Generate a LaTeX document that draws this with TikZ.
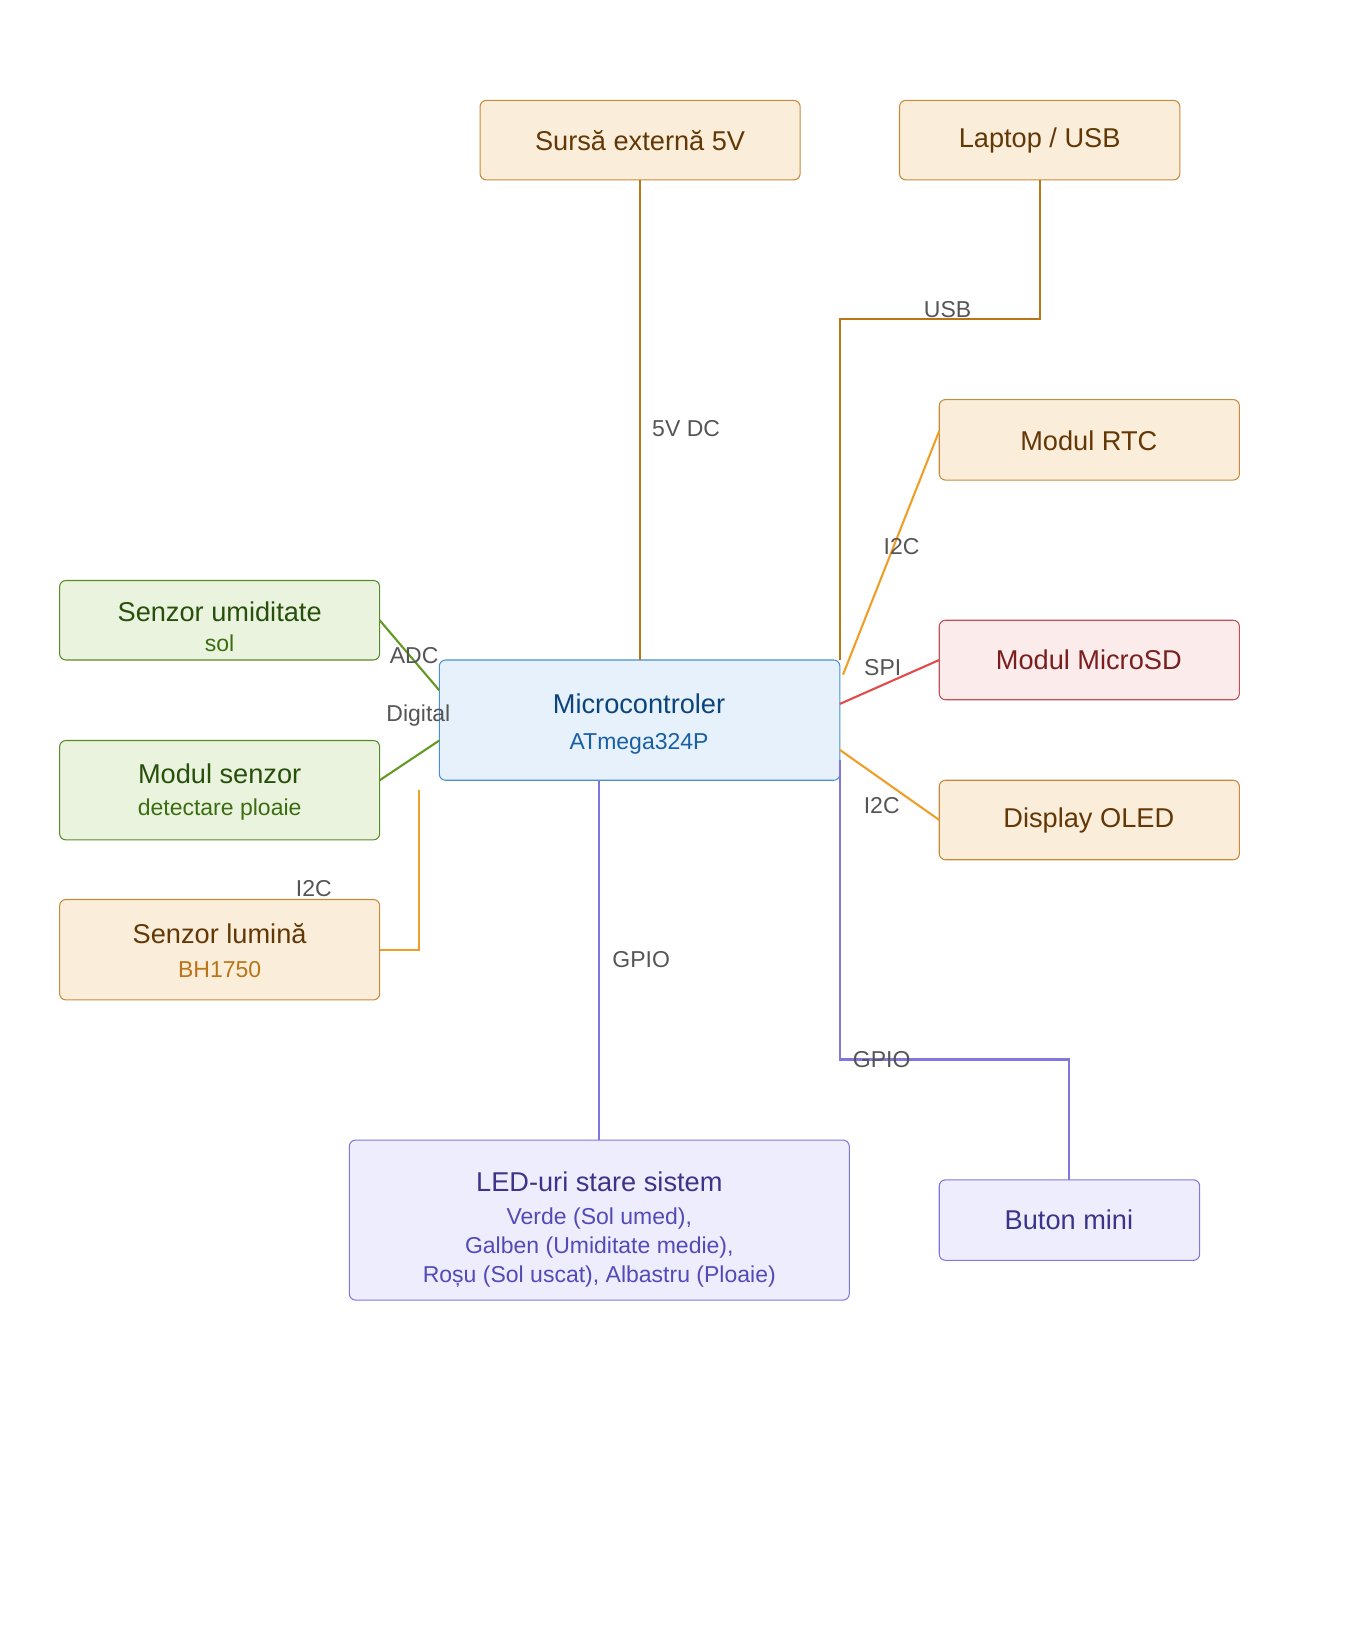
\documentclass[tikz,border=0pt]{standalone}
\usepackage{fontspec}
\setmainfont{Liberation Sans}
\usetikzlibrary{calc}
\definecolor{ambF}{HTML}{FAEEDA}\definecolor{ambD}{HTML}{C8893A}\definecolor{ambT}{HTML}{633806}
\definecolor{grnF}{HTML}{EAF3DE}\definecolor{grnD}{HTML}{5A8A2A}\definecolor{grnT}{HTML}{27500A}\definecolor{grnS}{HTML}{3B6D11}
\definecolor{bluF}{HTML}{E6F1FB}\definecolor{bluD}{HTML}{4A90D0}\definecolor{bluT}{HTML}{0C447C}\definecolor{bluS}{HTML}{185FA5}
\definecolor{redF}{HTML}{FCEBEB}\definecolor{redD}{HTML}{C0505A}\definecolor{redT}{HTML}{791F1F}
\definecolor{purF}{HTML}{EEEDFE}\definecolor{purD}{HTML}{7F77DD}\definecolor{purT}{HTML}{3C3489}\definecolor{purS}{HTML}{534AB7}
\definecolor{pwr}{HTML}{BA7517}\definecolor{i2c}{HTML}{EF9F27}\definecolor{spi}{HTML}{E24B4A}
\definecolor{adc}{HTML}{639922}\definecolor{lbl}{HTML}{555555}
\begin{document}
\begin{tikzpicture}[x=0.5pt,y=-0.5pt,
  box/.style={draw,rounded corners=3pt,line width=0.5pt},
  amb/.style={box,fill=ambF,draw=ambD},
  grn/.style={box,fill=grnF,draw=grnD},
  blu/.style={box,fill=bluF,draw=bluD},
  red/.style={box,fill=redF,draw=redD},
  pur/.style={box,fill=purF,draw=purD},
  ttl/.style={font=\fontsize{13}{15}\selectfont},
  sub/.style={font=\fontsize{11}{13}\selectfont},
  lab/.style={font=\fontsize{11}{13}\selectfont,text=lbl},
  wire/.style={line width=1pt}]
  \useasboundingbox (0,0) rectangle (1300,1568);

  % boxes
  \draw[amb] (459,96) rectangle (765,172) coordinate (sursaBR);
  \node[ttl,text=ambT] (sursa) at (612,134) {Sursă externă 5V};
  \draw[amb] (860,96) rectangle (1128,172);
  \node[ttl,text=ambT] (laptop) at (994,134) {Laptop / USB};
  \draw[amb] (898,382) rectangle (1185,459);
  \node[ttl,text=ambT] (rtc) at (1041,421) {Modul RTC};
  \draw[red] (898,593) rectangle (1185,669);
  \node[ttl,text=redT] (sd) at (1041,631) {Modul MicroSD};
  \draw[amb] (898,746) rectangle (1185,822);
  \node[ttl,text=ambT] (oled) at (1041,784) {Display OLED};
  \draw[grn] (57,555) rectangle (363,631);
  \node[ttl,text=grnT] (umid) at (210,585) {Senzor umiditate};
  \node[sub,text=grnS] (umidS) at (210,615) {sol};
  \draw[grn] (57,708) rectangle (363,803);
  \node[ttl,text=grnT] (ploaie) at (210,740) {Modul senzor};
  \node[sub,text=grnS] (ploaieS) at (210,774) {detectare ploaie};
  \draw[amb] (57,860) rectangle (363,956);
  \node[ttl,text=ambT] (lum) at (210,893) {Senzor lumină};
  \node[sub,text=pwr] (lumS) at (210,927) {BH1750};
  \draw[blu] (420,631) rectangle (803,746);
  \node[ttl,text=bluT] (mcu) at (611,673) {Microcontroler};
  \node[sub,text=bluS] (mcuS) at (611,711) {ATmega324P};
  \draw[pur] (334,1090) rectangle (812,1243);
  \node[ttl,text=purT] (led) at (573,1130) {LED-uri stare sistem};
  \node[sub,text=purS,align=center] (ledS) at (573,1193)
    {Verde (Sol umed),\\[1pt]Galben (Umiditate medie),\\[1pt]Roșu (Sol uscat), Albastru (Ploaie)};
  \draw[pur] (898,1128) rectangle (1147,1205);
  \node[ttl,text=purT] (buton) at (1022,1166) {Buton mini};

  % connectors
  \draw[wire,pwr] (612,172) -- (612,631);
  \draw[wire,pwr] (994,172) -- (994,305) -- (803,305) -- (803,631);
  \draw[wire,i2c] (898,412) -- (806,645);
  \draw[wire,spi] (898,631) -- (803,673);
  \draw[wire,i2c] (803,717) -- (898,784);
  \draw[wire,adc] (363,593) -- (420,660);
  \draw[wire,adc] (363,746) -- (420,708);
  \draw[wire,i2c] (363,908) -- (401,908) -- (401,755);
  \draw[wire,purD] (573,746) -- (573,1090);
  \draw[wire,purD] (803,727) -- (803,1013) -- (1022,1013) -- (1022,1128);

  % labels
  \node[lab] at (656,410) {5V DC};
  \node[lab] at (906,296) {USB};
  \node[lab] at (862,523) {I2C};
  \node[lab] at (844,638) {SPI};
  \node[lab] at (843,770) {I2C};
  \node[lab] at (396,627) {ADC};
  \node[lab] at (400,684) {Digital};
  \node[lab] at (300,850) {I2C};
  \node[lab] at (613,917) {GPIO};
  \node[lab] at (843,1013) {GPIO};
\end{tikzpicture}
\end{document}
